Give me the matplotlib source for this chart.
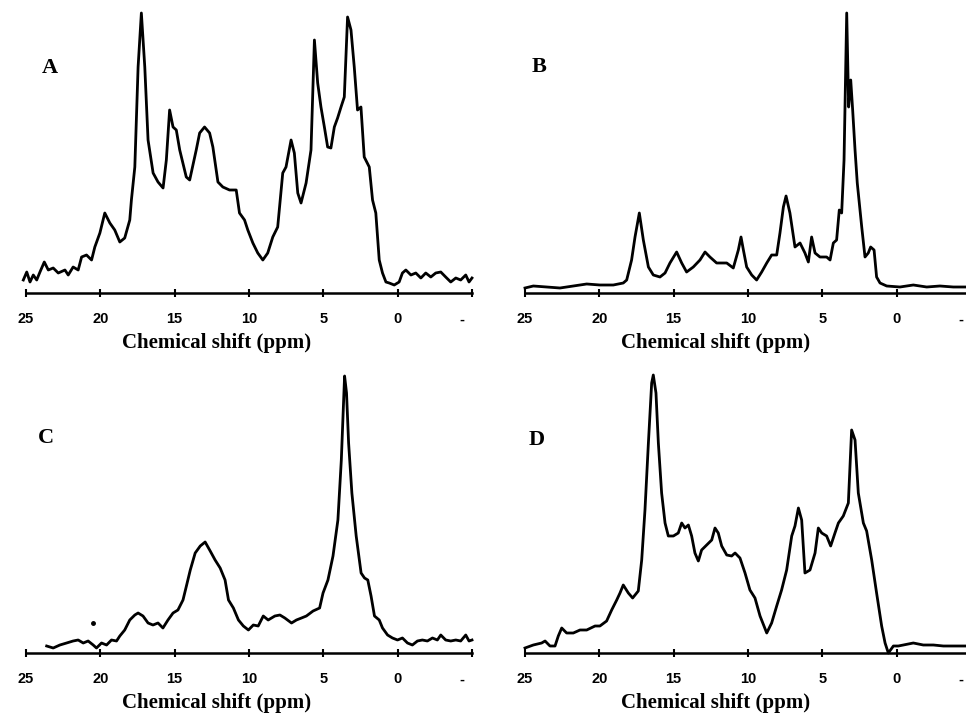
#
# 1H NMR spectra, four samples (A-D)
#

import matplotlib.pyplot as plt
import matplotlib.transforms as mtransforms

plt.rcParams.update(
    {
        "font.family": "Liberation Sans",
        "font.weight": "bold",
        "axes.linewidth": 1.8,
    }
)

ticks = [25, 20, 15, 10, 5, 0, -5]
tick_labels = ["25", "20", "15", "10", "5", "0", "-"]
xlabel = "Chemical shift (ppm)"

# spectrum A
ppm_a = [25.18, 24.95, 24.73, 24.51, 24.28, 24.06, 23.77, 23.50, 23.17, 22.83, 22.38,
         22.16, 21.83, 21.49, 21.26, 20.93, 20.59, 20.37, 20.03, 19.70, 19.36, 19.03,
         18.69, 18.36, 18.02, 17.91,
         17.68, 17.46, 17.24, 17.01, 16.79, 16.45, 16.12, 15.78, 15.56, 15.34, 15.11,
         14.89, 14.66, 14.22, 13.99, 13.55, 13.32, 12.99, 12.65, 12.43, 12.09, 11.76,
         11.31, 10.86, 10.64, 10.30, 10.08, 9.74, 9.41, 9.07, 8.74, 8.40, 8.07, 7.73,
         7.51, 7.17, 6.95, 6.72, 6.50, 6.16, 5.83, 5.60, 5.38, 5.16, 4.93, 4.71, 4.49,
         4.26, 4.04, 3.81, 3.59, 3.37, 3.14, 2.92, 2.70, 2.47, 2.25, 1.91, 1.69, 1.47,
         1.24, 1.02, 0.79, 0.57, 0.23, -0.10, -0.32, -0.55, -0.89, -1.22, -1.56, -1.89,
         -2.23, -2.56, -2.90, -3.23, -3.57, -3.91, -4.24, -4.58, -4.80, -5.0]
int_a = [13, 21, 11, 18, 13, 21, 31, 23, 25, 20, 23,
         18, 26, 23, 36, 38, 33, 46, 60, 80, 70, 63,
         51, 55, 73, 93,
         126, 226, 280, 226, 153, 120, 111, 105, 133, 183, 166,
         163, 143, 116, 113, 143, 160, 166, 160, 146, 111, 106,
         103, 103, 80, 73, 63, 50, 40, 33, 40, 56, 66, 120,
         126, 153, 140, 100, 90, 110, 143, 253, 210, 186, 166, 146, 145,
         166, 175, 186, 196, 276, 263, 226, 183, 186, 136, 126, 93, 80,
         33, 20, 11, 10, 8, 11, 20, 23, 18, 20, 15, 20,
         16, 20, 21, 16, 11, 15, 13, 18, 11, 15]

# spectrum B
ppm_b = [25.00, 24.44, 23.54, 22.65, 21.75, 20.85, 19.96, 19.06, 18.39, 18.16, 17.83,
         17.60, 17.31, 17.04, 16.70, 16.37, 15.92, 15.58, 15.25, 14.80, 14.46, 14.13,
         13.68, 13.23, 12.89, 12.56, 12.11, 11.43, 10.99, 10.65, 10.47, 10.31, 10.09,
         9.75, 9.42, 9.08, 8.74, 8.41, 8.07, 7.85, 7.62, 7.44, 7.18, 6.84, 6.50, 6.17,
         5.94, 5.72, 5.49, 5.16, 4.71, 4.48, 4.26, 4.04, 3.86, 3.70, 3.54, 3.36, 3.23,
         3.09, 2.96, 2.80, 2.65, 2.35, 2.13, 1.91, 1.75, 1.52, 1.35, 1.12, 0.67, -0.22,
         -1.12, -2.02, -2.91, -3.81, -4.66]
int_b = [5, 7, 6, 5, 7, 9, 8, 8, 10, 13, 33,
         56, 80, 53, 26, 18, 16, 20, 30, 41, 30, 21,
         26, 33, 41, 36, 30, 30, 25, 43, 56, 43, 26,
         18, 13, 21, 30, 38, 38, 60, 86, 97, 80, 46, 50, 40,
         31, 56, 40, 36, 36, 33, 50, 53, 83, 80, 133, 280, 186,
         213, 183, 143, 110, 66, 36, 40, 46, 43, 16, 10, 7, 6,
         8, 6, 7, 6, 6]

# spectrum C
ppm_c = [23.61, 23.17, 22.72, 22.27, 21.83, 21.49, 21.15, 20.82, 20.48, 20.26, 19.92,
         19.58, 19.25, 18.91, 18.69, 18.36, 18.02, 17.68, 17.46, 17.13, 16.79, 16.46,
         16.12, 15.79, 15.45, 15.11, 14.78, 14.44, 14.21,
         13.95, 13.62, 13.28, 12.95, 12.61, 12.28, 11.94, 11.61,
         11.38, 11.05, 10.71, 10.38, 10.04, 9.71, 9.38, 9.04, 8.71, 8.26, 7.92, 7.59,
         7.14, 6.81, 6.47, 6.14, 5.69, 5.25, 5.02, 4.69, 4.35, 4.02, 3.79, 3.66, 3.57,
         3.44, 3.30, 3.08, 2.79, 2.46, 2.23, 2.01, 1.79, 1.56,
         1.24, 1.02, 0.68, 0.35, 0.01, -0.32, -0.66, -0.99, -1.33, -1.66, -2.00, -2.34,
         -2.67, -2.90, -3.23, -3.57, -3.91, -4.24, -4.58, -4.80, -5.0]
int_c = [7, 5, 8, 10, 12, 13, 10, 12, 8, 5, 10,
         8, 13, 12, 17, 23, 33, 38, 40, 37, 30, 28,
         30, 25, 33, 40, 43, 53, 67,
         83, 100, 107, 111, 102, 93, 85, 73,
         53, 45, 33, 27, 23, 28, 27, 37, 33, 37, 38, 35,
         30, 33, 35, 37, 42, 45, 60, 73, 97, 133, 193, 243, 277,
         260, 210, 160, 117, 80, 75, 73, 57, 37,
         33, 25, 18, 15, 13, 15, 10, 8, 12, 13, 12, 15,
         13, 18, 13, 12, 13, 12, 18, 12, 13]
dot_c = (20.48, 30)

# spectrum D
ppm_d = [25.00, 24.44, 23.88, 23.65, 23.32, 22.98, 22.76, 22.53, 22.20, 21.75, 21.30,
         20.85, 20.29, 19.96, 19.51, 19.17, 18.83, 18.61, 18.39, 18.05, 17.76, 17.38,
         17.15, 16.93, 16.70, 16.48, 16.37, 16.19, 16.03, 15.81, 15.58, 15.36, 15.02,
         14.69, 14.46, 14.24, 14.01, 13.79, 13.57, 13.34, 13.12, 12.78, 12.44, 12.22,
         12.00, 11.77, 11.43, 11.10, 10.87, 10.54, 10.20, 9.87, 9.53, 9.19, 8.74, 8.41,
         8.07, 7.74, 7.40, 7.06, 6.84, 6.61, 6.39, 6.17, 5.83, 5.49, 5.27, 5.04, 4.71,
         4.44, 4.15, 3.92, 3.59, 3.25, 3.03, 2.80, 2.58, 2.24, 2.02, 1.68, 1.35, 1.01,
         0.78, 0.56, 0.22, -0.11, -0.45, -1.12, -1.79, -2.47, -3.14, -3.81, -4.66]
int_d = [5, 8, 10, 12, 7, 7, 17, 25, 20, 20, 23,
         23, 27, 27, 32, 43, 53, 60, 68, 60, 55, 62,
         93, 143, 210, 270, 278, 260, 210, 160, 130, 117, 117,
         120, 130, 125, 128, 117, 100, 92, 103, 108, 113, 125,
         120, 107, 98, 97, 100, 95, 80, 63, 55, 37, 20, 30,
         47, 63, 83, 117, 127, 145, 133, 80, 83, 100, 125, 120, 117,
         107, 120, 130, 137, 150, 223, 213, 160, 130, 122, 93, 60, 27,
         10, 0, 7, 7, 8, 10, 8, 8, 7, 7, 7]

spectra = [
    ("A", ppm_a, int_a, 26, 293, 42, 73),
    ("B", ppm_b, int_b, 525, 293, 532, 72),
    ("C", ppm_c, int_c, 26, 653, 38, 443),
    ("D", ppm_d, int_d, 525, 653, 529, 445),
]

W, H = 966, 713
fig = plt.figure(figsize=(W / 100, H / 100), dpi=100)

for letter, x, y, left, base, lx, ly in spectra:
    ax = fig.add_axes([left / W, (H - base) / H, 446 / W, 285 / H])
    ax.plot(x, y, color="black", lw=2.0, clip_on=False)
    if letter == "C":
        ax.plot(dot_c[0], dot_c[1], "o", color="black", ms=2.5)
    ax.set_xlim(25, -5)
    ax.set_ylim(0, 285)
    for s in ["top", "left", "right"]:
        ax.spines[s].set_visible(False)
    ax.set_yticks([])
    ax.set_xticks(ticks)
    ax.set_xticklabels(tick_labels)
    ax.tick_params(axis="x", direction="inout", length=6, width=1.5, pad=11,
                   labelsize=10.5)
    last = ax.get_xticklabels()[-1]
    last.set_transform(last.get_transform()
                       + mtransforms.ScaledTranslation(-0.1, 0, fig.dpi_scale_trans))
    ax.set_xlabel(xlabel, family="Liberation Serif", fontweight="bold",
                  fontsize=15, labelpad=5)
    ax.xaxis.label.set_x(0.427)
    fig.text(lx / W, (H - ly) / H, letter, family="Liberation Serif",
             fontweight="bold", fontsize=16, va="baseline")

fig.savefig("out.png", dpi=100)
